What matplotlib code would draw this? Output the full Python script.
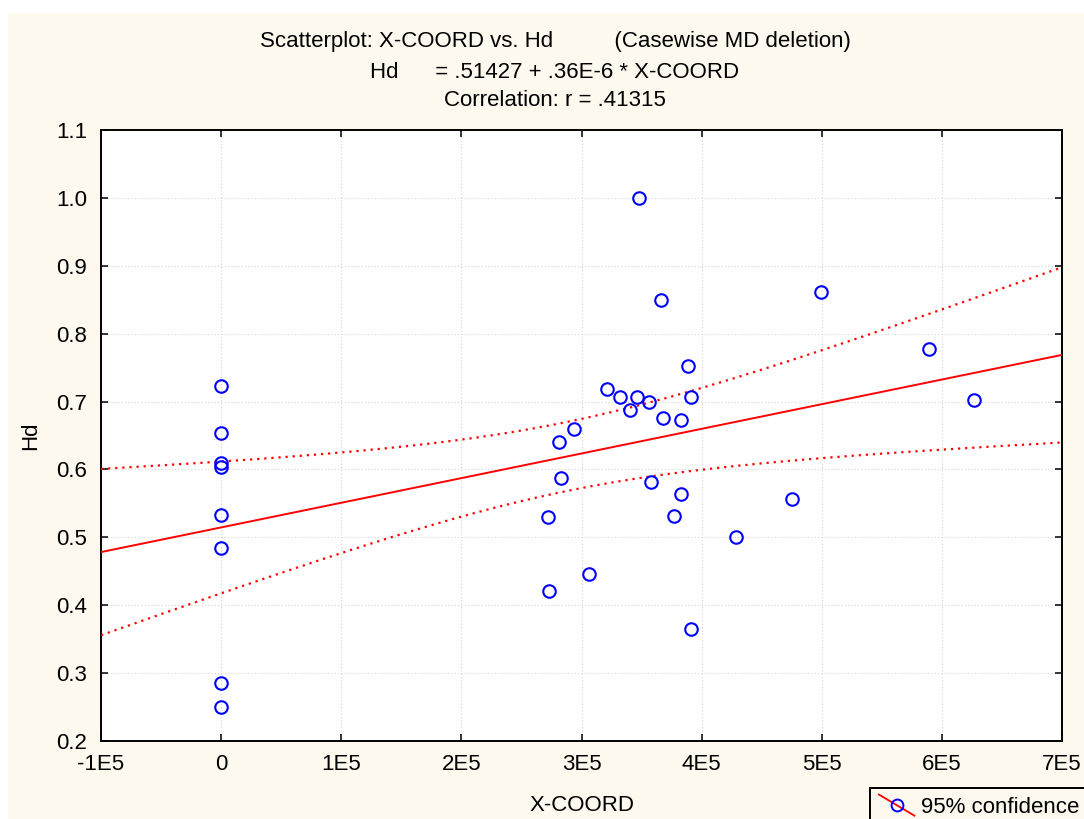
import matplotlib
matplotlib.use('Agg')
import matplotlib.pyplot as plt
import numpy as np
from matplotlib.legend_handler import HandlerBase
from matplotlib.lines import Line2D
from matplotlib.patches import Rectangle

# X-COORD / Hd pairs
x_coord = [0, 0, 0, 0, 0, 0, 0, 0,
           348000, 366000, 499000, 589000, 627000, 389000, 321000, 332000,
           346000, 356000, 340000, 391000, 368000, 383000, 294000, 281000,
           283000, 358000, 383000, 475000, 272000, 377000, 429000, 306000,
           273000, 391000]
hd = [0.723, 0.654, 0.610, 0.603, 0.533, 0.485, 0.286, 0.250,
      1.000, 0.850, 0.862, 0.777, 0.702, 0.753, 0.718, 0.707,
      0.707, 0.700, 0.687, 0.706, 0.676, 0.673, 0.660, 0.640,
      0.588, 0.581, 0.564, 0.556, 0.530, 0.532, 0.501, 0.446,
      0.421, 0.365]

x_ticks = [-1e5, 0, 1e5, 2e5, 3e5, 4e5, 5e5, 6e5, 7e5]
x_tick_labels = ['-1E5', '0', '1E5', '2E5', '3E5', '4E5', '5E5', '6E5', '7E5']
y_ticks = [0.2, 0.3, 0.4, 0.5, 0.6, 0.7, 0.8, 0.9, 1.0, 1.1]
y_tick_labels = ['0.2', '0.3', '0.4', '0.5', '0.6', '0.7', '0.8', '0.9', '1.0', '1.1']

title_lines = ['Scatterplot: X-COORD vs. Hd          (Casewise MD deletion)',
               'Hd      = .51427 + .36E-6 * X-COORD',
               'Correlation: r = .41315']

T_975 = 2.037  # t quantile for n-2 degrees of freedom

CREAM = '#fdf9ef'

plt.rcParams['font.family'] = ['Liberation Sans', 'DejaVu Sans']
plt.rcParams['font.size'] = 16


class DiagonalHandler(HandlerBase):
    def create_artists(self, legend, orig_handle, xdescent, ydescent, width,
                       height, fontsize, trans):
        x0, x1 = -xdescent, width - xdescent
        y0, y1 = -ydescent - 2, height - ydescent + 2
        line = Line2D([x0, x1], [y1, y0], color='red', lw=1.3,
                      transform=trans)
        mark = Line2D([(x0 + x1) / 2], [(y0 + y1) / 2], marker='o',
                      mfc='none', mec='blue', mew=1.4, ms=8.5, ls='none',
                      transform=trans)
        return [line, mark]


def main():
    x = np.array(x_coord, dtype=float)
    y = np.array(hd, dtype=float)
    n = len(x)

    slope, intercept = np.polyfit(x, y, 1)
    resid = y - (intercept + slope * x)
    s = np.sqrt(np.sum(resid ** 2) / (n - 2))
    sxx = np.sum((x - x.mean()) ** 2)

    xs = np.linspace(-1e5, 7e5, 200)
    fit = intercept + slope * xs
    se = s * np.sqrt(1.0 / n + (xs - x.mean()) ** 2 / sxx)

    fig = plt.figure(figsize=(10.84, 8.19), dpi=100, facecolor='white')
    fig.add_artist(Rectangle((8 / 1084, 0), 1, 1 - 13 / 819,
                             transform=fig.transFigure, facecolor=CREAM,
                             edgecolor='none', zorder=-10))

    ax = fig.add_axes([101 / 1084, 1 - 741 / 819, 961 / 1084, 611 / 819])
    ax.set_facecolor('white')

    ax.plot(xs, fit, color='red', lw=1.4, zorder=3)
    ax.plot(xs, fit + T_975 * se, color='red', lw=1.6, ls=(0, (1, 2.2)),
            zorder=3)
    ax.plot(xs, fit - T_975 * se, color='red', lw=1.6, ls=(0, (1, 2.2)),
            zorder=3)
    ax.plot(x, y, ls='none', marker='o', ms=9, mfc='none', mec='blue',
            mew=1.5, zorder=4, clip_on=False)

    ax.set_xlim(-1e5, 7e5)
    ax.set_ylim(0.2, 1.1)
    ax.set_xticks(x_ticks)
    ax.set_xticklabels(x_tick_labels)
    ax.set_yticks(y_ticks)
    ax.set_yticklabels(y_tick_labels)
    ax.tick_params(direction='in', length=5, width=1.1, top=True,
                   right=True, colors='black')
    ax.tick_params(axis='x', pad=9)
    ax.tick_params(axis='y', pad=10)
    ax.grid(True, color='#d4d4d4', ls=(0, (1, 2)), lw=0.8)
    ax.set_axisbelow(True)
    for sp in ax.spines.values():
        sp.set_linewidth(1.4)

    ax.set_xlabel('X-COORD', labelpad=15)
    ax.set_ylabel('Hd', labelpad=11)

    for line, ypx in zip(title_lines, [42, 72, 101]):
        fig.text(555 / 1084, 1 - ypx / 819, line, ha='center', va='center',
                 fontsize=16)

    proxy = Line2D([], [], color='red')
    leg = fig.legend([proxy], ['95% confidence'], loc='upper left',
                     bbox_to_anchor=(870 / 1084, 1 - 788 / 819),
                     handler_map={Line2D: DiagonalHandler()},
                     fancybox=False, frameon=True, borderaxespad=0,
                     handlelength=1.6, handletextpad=0.3, borderpad=0.4)
    leg.get_frame().set_edgecolor('black')
    leg.get_frame().set_linewidth(1.4)
    leg.get_frame().set_facecolor(CREAM)
    leg.get_frame().set_alpha(1)

    fig.savefig('out.png', dpi=100, facecolor='white')


if __name__ == '__main__':
    main()
